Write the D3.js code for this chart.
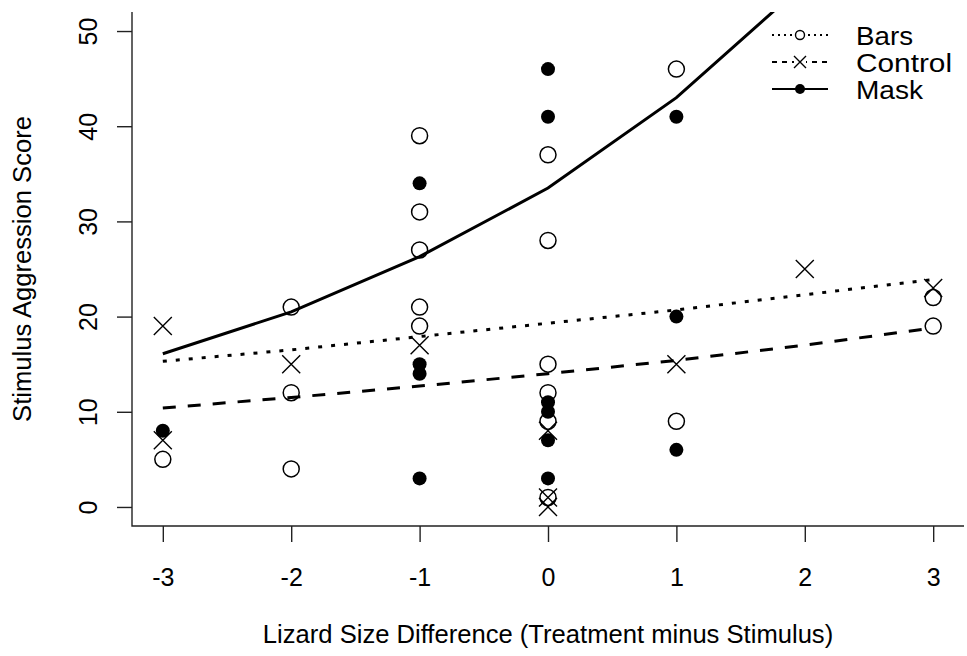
<!DOCTYPE html>
<html>
<head>
<meta charset="utf-8">
<script src="https://cdn.jsdelivr.net/npm/d3@7"></script>
<style>
  html, body { margin: 0; padding: 0; background: #fff; }
  svg { display: block; font-family: "Liberation Sans", Arial, sans-serif; }
</style>
</head>
<body>
<svg id="chart" width="967" height="656"></svg>
<script>
// Axis ticks
const xTicks = [-3, -2, -1, 0, 1, 2, 3];
const yTicks = [0, 10, 20, 30, 40, 50];

// Observed scores by treatment
const barsX = [-3, -2, -2, -2, -1, -1, -1, -1, -1, 0, 0, 0, 0, 0, 0, 1, 1, 3, 3];
const barsY = [5, 21, 12, 4, 39, 31, 27, 21, 19, 37, 28, 15, 12, 9, 1, 46, 9, 22, 19];

const controlX = [-3, -3, -2, -1, 0, 0, 0, 1, 2, 3];
const controlY = [19, 7, 15, 17, 8, 1, 0, 15, 25, 23];

const maskX = [-3, -1, -1, -1, -1, 0, 0, 0, 0, 0, 0, 1, 1, 1];
const maskY = [8, 34, 15, 14, 3, 46, 41, 11, 10, 7, 3, 41, 20, 6];

// Fitted curves evaluated at each size difference
const fitX = [-3, -2, -1, 0, 1, 2, 3];
const barsFit = [15.3, 16.5, 17.9, 19.3, 20.7, 22.3, 23.9];
const controlFit = [10.4, 11.5, 12.7, 14.0, 15.4, 17.0, 18.8];
const maskFit = [16.1, 20.5, 26.3, 33.5, 43.0, 55.0, 70.5];

const legendLabels = ["Bars", "Control", "Mask"];

const svg = d3.select("#chart");
const plot = { left: 132, right: 964, top: 12, bottom: 526 };

const x = d3.scaleLinear().domain([-3.24, 3.24]).range([plot.left, plot.right]);
const y = d3.scaleLinear().domain([-2, 52]).range([plot.bottom, plot.top]);

svg.append("defs").append("clipPath").attr("id", "plotclip")
  .append("rect")
  .attr("x", plot.left).attr("y", plot.top)
  .attr("width", plot.right - plot.left).attr("height", plot.bottom - plot.top);

// L-shaped frame
svg.append("path")
  .attr("d", `M${plot.left},${plot.top}V${plot.bottom}H${plot.right}`)
  .attr("fill", "none").attr("stroke", "#222").attr("stroke-width", 1.4);

// Bottom axis
const xAxis = svg.append("g")
  .attr("transform", `translate(0,${plot.bottom})`)
  .call(d3.axisBottom(x).tickValues(xTicks).tickSize(16).tickFormat(d3.format("d")));
xAxis.select(".domain").remove();
xAxis.selectAll(".tick line").attr("stroke", "#222").attr("stroke-width", 1.4);
xAxis.selectAll(".tick text")
  .attr("y", 60).attr("dy", null)
  .attr("font-size", 25).attr("fill", "#000")
  .attr("font-family", "Liberation Sans, Arial, sans-serif")
  .text(d => d < 0 ? "-" + Math.abs(d) : String(d));

// Left axis with rotated labels
const yAxis = svg.append("g")
  .attr("transform", `translate(${plot.left},0)`)
  .call(d3.axisLeft(y).tickValues(yTicks).tickSize(15));
yAxis.select(".domain").remove();
yAxis.selectAll(".tick line").attr("stroke", "#222").attr("stroke-width", 1.4);
yAxis.selectAll(".tick text")
  .attr("x", null).attr("dy", null)
  .attr("transform", "translate(-35,0) rotate(-90)")
  .attr("text-anchor", "middle")
  .attr("font-size", 25).attr("fill", "#000")
  .attr("font-family", "Liberation Sans, Arial, sans-serif");

// Axis titles
svg.append("text")
  .attr("x", 548).attr("y", 643)
  .attr("text-anchor", "middle").attr("font-size", 25.6).attr("fill", "#000")
  .text("Lizard Size Difference (Treatment minus Stimulus)");
svg.append("text")
  .attr("transform", `translate(31,${(y(0) + y(50)) / 2}) rotate(-90)`)
  .attr("text-anchor", "middle").attr("font-size", 25.6).attr("fill", "#000")
  .text("Stimulus Aggression Score");

const g = svg.append("g").attr("clip-path", "url(#plotclip)");

// Marker drawing helpers
function openCircle(sel, cx, cy, r, w) {
  sel.append("circle").attr("cx", cx).attr("cy", cy).attr("r", r)
    .attr("fill", "none").attr("stroke", "#000").attr("stroke-width", w);
}
function cross(sel, cx, cy, h, w) {
  sel.append("path")
    .attr("d", `M${cx - h},${cy - h}L${cx + h},${cy + h}M${cx - h},${cy + h}L${cx + h},${cy - h}`)
    .attr("stroke", "#000").attr("stroke-width", w).attr("fill", "none");
}
function dot(sel, cx, cy, r) {
  sel.append("circle").attr("cx", cx).attr("cy", cy).attr("r", r).attr("fill", "#000");
}

barsX.forEach((d, i) => openCircle(g, x(d), y(barsY[i]), 8, 1.5));
controlX.forEach((d, i) => cross(g, x(d), y(controlY[i]), 9, 1.4));
maskX.forEach((d, i) => dot(g, x(d), y(maskY[i]), 7));

// Fitted lines
const line = d3.line().x(d => x(d[0])).y(d => y(d[1]));
g.append("path").datum(fitX.map((d, i) => [d, barsFit[i]]))
  .attr("d", line).attr("fill", "none").attr("stroke", "#000")
  .attr("stroke-width", 3).attr("stroke-dasharray", "4,9");
g.append("path").datum(fitX.map((d, i) => [d, controlFit[i]]))
  .attr("d", line).attr("fill", "none").attr("stroke", "#000")
  .attr("stroke-width", 3).attr("stroke-dasharray", "13,12");
g.append("path").datum(fitX.map((d, i) => [d, maskFit[i]]))
  .attr("d", line).attr("fill", "none").attr("stroke", "#000")
  .attr("stroke-width", 3);

// Legend: labels are set slightly wide, as in the printed key
const legend = svg.append("g");
const rowY = [35, 62, 89];
const dashes = ["2,4", "5,5", null];
const labelWidths = [57, 96, 67];
legendLabels.forEach((lab, i) => {
  const ly = rowY[i];
  const seg = legend.append("line")
    .attr("x1", 772).attr("x2", 828).attr("y1", ly).attr("y2", ly)
    .attr("stroke", "#000").attr("stroke-width", 1.8);
  if (dashes[i]) seg.attr("stroke-dasharray", dashes[i]);
  if (i === 0) {
    legend.append("circle").attr("cx", 800).attr("cy", ly).attr("r", 4.5)
      .attr("fill", "#fff").attr("stroke", "#000").attr("stroke-width", 1.4);
  } else if (i === 1) {
    legend.append("rect").attr("x", 794).attr("y", ly - 6).attr("width", 12).attr("height", 12).attr("fill", "#fff");
    cross(legend, 800, ly, 6, 1.4);
  } else {
    dot(legend, 800, ly, 5);
  }
  legend.append("text").attr("x", 856).attr("y", ly + 9.5)
    .attr("font-size", 25).attr("fill", "#000")
    .attr("textLength", labelWidths[i]).attr("lengthAdjust", "spacingAndGlyphs")
    .text(lab);
});
</script>
</body>
</html>
